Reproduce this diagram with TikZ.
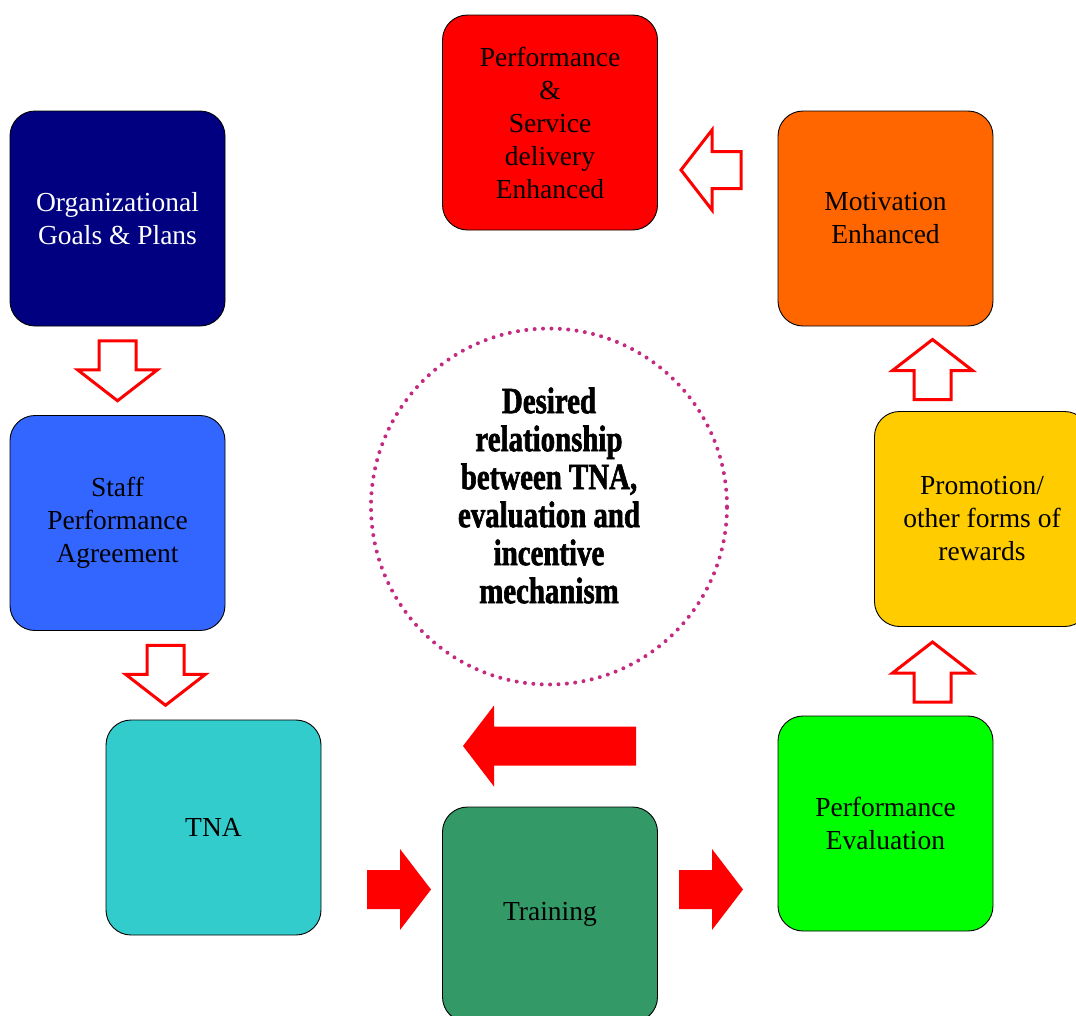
\documentclass[tikz,border=0pt]{standalone}
\usepackage{fontspec}
\setmainfont{Liberation Serif}
\newfontfamily\titlefont{Liberation Serif}[UprightFont=* Bold, FakeStretch=0.78, FakeBold=1.6]
\usetikzlibrary{calc}
\definecolor{navybox}{HTML}{000080}
\definecolor{bluebox}{HTML}{3366FF}
\definecolor{tealbox}{HTML}{33CCCC}
\definecolor{greenbox}{HTML}{339966}
\definecolor{limebox}{HTML}{00FF00}
\definecolor{goldbox}{HTML}{FFCC00}
\definecolor{orangebox}{HTML}{FF6600}
\definecolor{redbox}{HTML}{FF0000}
\definecolor{dotring}{HTML}{C42A80}

\begin{document}
\begin{tikzpicture}[x=1pt,y=1pt,
    stage/.style={draw=black, line width=0.9, rounded corners=25, minimum width=215, minimum height=215,
      align=center, font=\fontsize{27.5}{33}\selectfont},
    hollowarrow/.pic={\draw[red, line width=3, fill=white]
      ({-#1/2},-18.5) -- ({#1/2-31},-18.5) -- ({#1/2-31},-40) -- ({#1/2},0) -- ({#1/2-31},40) -- ({#1/2-31},18.5) -- ({-#1/2},18.5) -- cycle;},
    solidarrow/.pic={\fill[red]
      ({-#1/2},-19.5) -- ({#1/2-31},-19.5) -- ({#1/2-31},-40.5) -- ({#1/2},0) -- ({#1/2-31},40.5) -- ({#1/2-31},19.5) -- ({-#1/2},19.5) -- cycle;}]
  \useasboundingbox (0,0) rectangle (1076,-1015);

  \node[stage, fill=navybox, text=white] (org) at (117.5,-218.5) {Organizational\\Goals \& Plans};
  \node[stage, fill=bluebox] (staff) at (117.5,-523) {Staff\\Performance\\Agreement};
  \node[stage, fill=tealbox] (tna) at (213.5,-827.5) {TNA};
  \node[stage, fill=greenbox] (train) at (550,-914.5) {Training};
  \node[stage, fill=limebox] (eval) at (885.5,-823.5) {Performance\\Evaluation};
  \node[stage, fill=goldbox] (promo) at (982,-519) {Promotion/\\other forms of\\rewards};
  \node[stage, fill=orangebox] (motiv) at (885.5,-218.5) {Motivation\\Enhanced};
  \node[stage, fill=redbox] (perf) at (550,-122.5) {Performance\\\&\\Service\\delivery\\Enhanced};

  \node[circle, draw=dotring, line width=4, dash pattern=on 0pt off 8.4pt, line cap=round,
    minimum size=356] (core) at (549,-506.5) {};
  \node[align=center, font=\titlefont\fontsize{37}{38}\selectfont] (corelabel) at ($(core.center)+(0,11)$)
    {Desired\\relationship\\between TNA,\\evaluation and\\incentive\\mechanism};

  \pic[rotate=-90] at ($(org.south)!0.5!(staff.north)$) {hollowarrow=60};
  \pic[rotate=-90] at ($(staff.south)!0.5!(tna.north)$) {hollowarrow=60};
  \pic at (399,-889.5) {solidarrow=64};
  \pic at (711,-889.5) {solidarrow=64};
  \pic[rotate=90] at (932.5,-672) {hollowarrow=60};
  \pic[rotate=90] at (932.5,-369.5) {hollowarrow=60};
  \pic[rotate=180] at (711,-170) {hollowarrow=60};
  \pic[rotate=180] at (549.5,-746) {solidarrow=173};
\end{tikzpicture}
\end{document}
